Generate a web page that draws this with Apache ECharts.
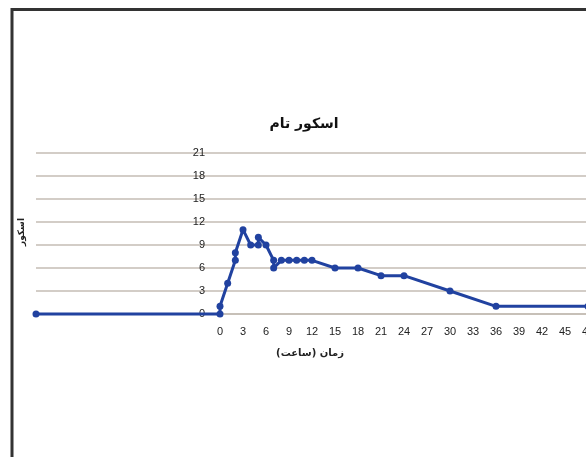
<!DOCTYPE html>
<html>
<head>
<meta charset="utf-8">
<script src="https://cdn.jsdelivr.net/npm/echarts@6/dist/echarts.min.js"></script>
<style>
html,body{margin:0;padding:0;background:#fff;}
#c{width:586px;height:457px;}
</style>
</head>
<body>
<div id="c"></div>
<script>
var titleText = 'اسکور تام';
var xName = 'زمان (ساعت)';
var yName = 'اسکور';
var hours  = [-24, 0, 0, 1, 2, 2, 3, 4, 5, 5, 6, 7, 7, 8, 9, 10, 11, 12, 15, 18, 21, 24, 30, 36, 48];
var scores = [0, 0, 1, 4, 7, 8, 11, 9, 9, 10, 9, 7, 6, 7, 7, 7, 7, 7, 6, 6, 5, 5, 3, 1, 1];
var yTicks = [0, 3, 6, 9, 12, 15, 18, 21];

var points = hours.map(function (h, i) { return [h, scores[i]]; });
var fa = '"DejaVu Sans", "Noto Sans", sans-serif';

var gridLeft = 36, gridWidth = 575, xMin = -24, xMax = 51;
// place the y axis where x = 0 (like the original, whose axis crosses at zero)
var yAxisOffset = -(0 - xMin) / (xMax - xMin) * gridWidth;

var chart = echarts.init(document.getElementById('c'));
chart.setOption({
  animation: false,
  backgroundColor: '#fff',
  title: {
    text: titleText,
    left: 299, top: 112, textAlign: 'center',
    textStyle: { fontFamily: fa, fontSize: 14, fontWeight: 'bold', color: '#111' }
  },
  grid: { left: gridLeft, top: 153, width: gridWidth, height: 161, containLabel: false, outerBoundsMode: 'none' },
  xAxis: {
    type: 'value', min: xMin, max: xMax, interval: 3,
    axisLine: { show: true, onZero: false, lineStyle: { color: '#c4bcb4', width: 1.5 } },
    axisTick: { show: false },
    splitLine: { show: false },
    axisLabel: {
      margin: 12, color: '#222', fontSize: 11, fontFamily: 'Liberation Sans, Arial, sans-serif',
      formatter: function (v) { return v < 0 ? '' : String(v); }
    }
  },
  yAxis: {
    type: 'value', min: yTicks[0], max: yTicks[yTicks.length - 1], interval: 3,
    offset: yAxisOffset,
    axisLine: { show: false, onZero: false },
    axisTick: { show: false },
    splitLine: { show: true, lineStyle: { color: '#c4bcb4', width: 1.5 } },
    axisLabel: { margin: 15, color: '#222', fontSize: 11, fontFamily: 'Liberation Sans, Arial, sans-serif' }
  },
  graphic: [{
    type: 'rect', silent: true, z: 100,
    shape: { x: 12, y: 9.5, width: 700, height: 600 },
    style: { fill: 'none', stroke: '#333', lineWidth: 3 }
  }, {
    type: 'text', silent: true,
    x: 22, y: 232, rotation: Math.PI / 2,
    style: {
      text: yName, fontFamily: fa, fontSize: 9, fontWeight: 'bold', fill: '#222',
      align: 'center', verticalAlign: 'middle'
    }
  }, {
    type: 'text', silent: true,
    x: 310, y: 353,
    style: {
      text: xName, fontFamily: fa, fontSize: 10, fontWeight: 'bold', fill: '#222',
      align: 'center', verticalAlign: 'middle'
    }
  }],
  series: [{
    type: 'line',
    data: points,
    clip: false,
    symbol: 'circle', symbolSize: 7,
    lineStyle: { color: '#2142a0', width: 3 },
    itemStyle: { color: '#2142a0' }
  }]
});
</script>
</body>
</html>
